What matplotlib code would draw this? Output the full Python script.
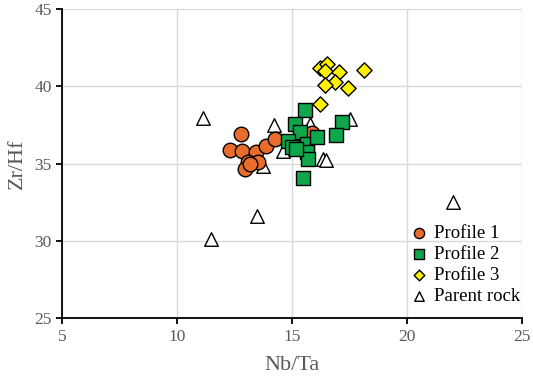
import matplotlib
matplotlib.use("Agg")
import matplotlib.pyplot as plt

plt.rcParams['font.family'] = ['Liberation Serif', 'DejaVu Serif']

# Profile 1 (orange circles)
p1_x = [12.78, 12.30, 12.81, 13.46, 13.87, 14.26, 13.10, 13.53, 12.96, 13.17, 15.88]
p1_y = [36.93, 35.91, 35.84, 35.73, 36.12, 36.60, 35.08, 35.08, 34.66, 34.98, 36.99]

# Profile 2 (green squares)
p2_x = [15.57, 17.20, 16.90, 15.13, 15.35, 14.84, 14.99, 15.64, 16.11, 15.64, 15.68, 15.49, 15.20]
p2_y = [38.50, 37.68, 36.86, 37.58, 37.03, 36.49, 36.06, 36.28, 36.71, 35.73, 35.30, 34.05, 35.97]

# Profile 3 (yellow diamonds)
p3_x = [16.22, 16.53, 16.43, 17.06, 16.87, 16.43, 17.45, 16.22, 18.13]
p3_y = [41.21, 41.43, 40.99, 40.93, 40.28, 40.11, 39.92, 38.88, 41.04]

# Parent rock (open triangles)
pr_x = [11.12, 14.22, 13.48, 11.48, 22.00, 16.36, 16.50, 17.52, 15.78, 14.62, 13.73]
pr_y = [37.97, 37.47, 31.60, 30.13, 32.53, 35.30, 35.24, 37.90, 37.58, 35.84, 34.87]

x_ticks = [5, 10, 15, 20, 25]
y_ticks = [25, 30, 35, 40, 45]

fig = plt.figure(figsize=(5.33, 3.81), dpi=100)
ax = fig.add_axes([0.1163, 0.165, 0.8627, 0.811])

ax.scatter(pr_x, pr_y, marker='^', s=95, facecolor='white', edgecolor='black',
           linewidth=1.0, label='Parent rock', zorder=3)
ax.scatter(p1_x, p1_y, marker='o', s=110, facecolor='#E86D2C', edgecolor='black',
           linewidth=1.0, label='Profile 1', zorder=4)
ax.scatter(p2_x, p2_y, marker='s', s=95, facecolor='#0FA64C', edgecolor='black',
           linewidth=1.0, label='Profile 2', zorder=5)
ax.scatter(p3_x, p3_y, marker='D', s=60, facecolor='#FFEF00', edgecolor='black',
           linewidth=1.0, label='Profile 3', zorder=6)

ax.set_xlim(5, 25)
ax.set_ylim(25, 45)
ax.set_xticks(x_ticks)
ax.set_yticks(y_ticks)
ax.grid(True, color='#D9D9D9', linewidth=1.0)
ax.set_axisbelow(True)
for s in ['top', 'right']:
    ax.spines[s].set_visible(False)
for s in ['left', 'bottom']:
    ax.spines[s].set_linewidth(1.3)
    ax.spines[s].set_color('black')
ax.tick_params(axis='both', direction='out', length=4, width=1.3, colors='black',
               labelcolor='#595959', labelsize=12.5)
ax.set_xlabel('Nb/Ta', fontsize=16, color='#595959', labelpad=8)
ax.set_ylabel('Zr/Hf', fontsize=16, color='#595959', labelpad=5)

h, l = ax.get_legend_handles_labels()
order = [1, 2, 3, 0]
ax.legend([h[i] for i in order], [l[i] for i in order], loc='lower right',
          frameon=False, fontsize=13.5, handletextpad=0.2, labelspacing=0.2,
          markerscale=0.7, borderaxespad=0.3, handlelength=1.2,
          bbox_to_anchor=(1.025, 0.0))

fig.savefig('out.png', dpi=100)
